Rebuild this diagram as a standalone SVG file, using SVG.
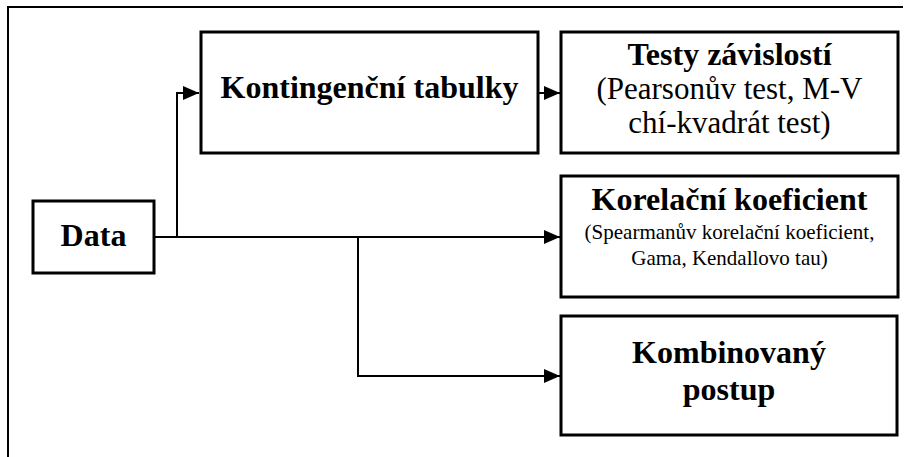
<svg xmlns="http://www.w3.org/2000/svg" width="913" height="457" viewBox="0 0 913 457">
  <style>
    .box { fill: #fff; stroke: #000; stroke-width: 3; }
    .frame { fill: none; stroke: #000; stroke-width: 2; }
    .edge { fill: none; stroke: #000; stroke-width: 2; }
    .b { font-family: "Liberation Serif", "Times New Roman", serif; font-weight: bold; font-size: 32px; fill: #000; text-anchor: middle; }
    .r { font-family: "Liberation Serif", "Times New Roman", serif; font-size: 31px; fill: #000; text-anchor: middle; }
    .s { font-family: "Liberation Serif", "Times New Roman", serif; font-size: 21px; fill: #000; text-anchor: middle; }
  </style>
  <defs>
    <marker id="arrow" markerUnits="userSpaceOnUse" markerWidth="16" markerHeight="14" refX="16" refY="7" orient="auto">
      <path d="M0,0 L16,7 L0,14 Z" fill="#000"/>
    </marker>
  </defs>

  <rect width="913" height="457" fill="#fff"/>

  <!-- outer frame (top and left edges) -->
  <path class="frame" d="M8,470 L8,7 L903,7"/>

  <g id="connectors">
    <path class="edge" d="M154,237 L560,237" marker-end="url(#arrow)"/>
    <path class="edge" d="M177,237 L177,93 L199,93" marker-end="url(#arrow)"/>
    <path class="edge" d="M538,93 L560,93" marker-end="url(#arrow)"/>
    <path class="edge" d="M358,237 L358,376 L560,376" marker-end="url(#arrow)"/>
  </g>

  <g id="data">
    <rect class="box" x="33" y="201" width="121" height="72"/>
    <text class="b" x="93.5" y="246">Data</text>
  </g>

  <g id="kontingencni-tabulky">
    <rect class="box" x="201" y="32" width="337" height="121"/>
    <text class="b" x="369.5" y="98">Kontingenční tabulky</text>
  </g>

  <g id="testy-zavislosti">
    <rect class="box" x="561" y="32" width="337" height="121"/>
    <text class="b" x="729.5" y="65">Testy závislostí</text>
    <text class="r" x="729.5" y="99">(Pearsonův test, M-V</text>
    <text class="r" x="729.5" y="133">chí-kvadrát test)</text>
  </g>

  <g id="korelacni-koeficient">
    <rect class="box" x="561" y="176" width="337" height="121"/>
    <text class="b" x="729.5" y="210">Korelační koeficient</text>
    <text class="s" x="729.5" y="239">(Spearmanův korelační koeficient,</text>
    <text class="s" x="729.5" y="265">Gama, Kendallovo tau)</text>
  </g>

  <g id="kombinovany-postup">
    <rect class="box" x="561" y="316" width="336" height="119"/>
    <text class="b" x="729" y="363">Kombinovaný</text>
    <text class="b" x="729" y="400">postup</text>
  </g>
</svg>
